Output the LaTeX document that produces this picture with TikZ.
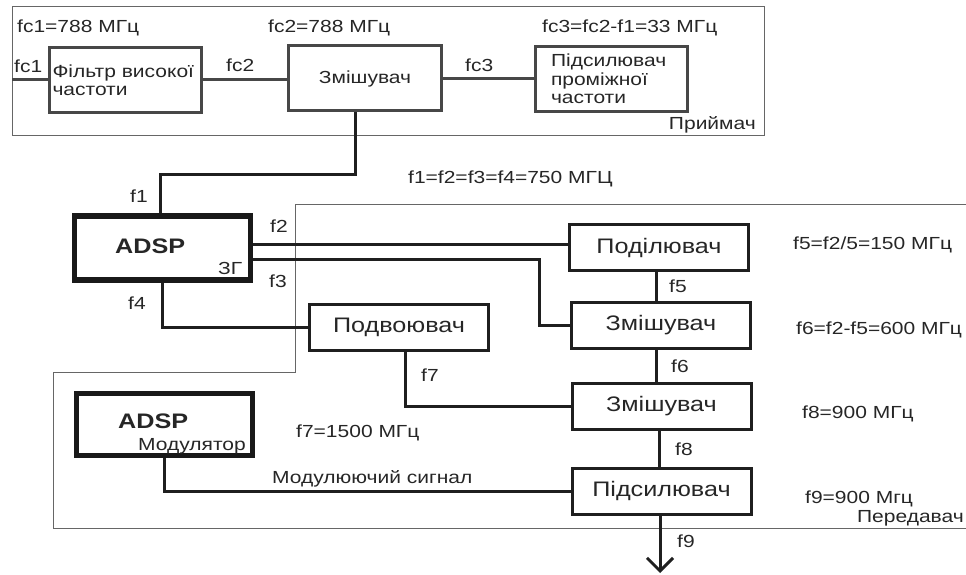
\documentclass[tikz,border=0pt]{standalone}
\usepackage{fontspec}
\setmainfont{Liberation Sans}[FakeStretch=1.2]
\usepackage{tikz}
\usetikzlibrary{positioning, arrows.meta, calc}

\newcommand{\lbltxt}{\fontsize{17.5}{18.5}\selectfont}
\newcommand{\blocktxt}{\fontsize{21}{23}\selectfont}

\begin{document}
\begin{tikzpicture}[
  x=1pt, y=-1pt,
  font=\lbltxt, text=black!85,
  >={Straight Barb[length=13pt, width=26pt]},
  box/.style={
    draw=black!88, line width=3pt, inner sep=0pt, align=center,
    font=\blocktxt, minimum width=179pt, minimum height=46pt
  },
  rxbox/.style={box, draw=black!72, font=\lbltxt, minimum width=152pt, minimum height=65pt},
  dspbox/.style={draw=black!90, line width=5.5pt, minimum width=176pt, minimum height=64pt},
  wire/.style={draw=black!88, line width=3pt},
  rxwire/.style={wire, draw=black!72},
  frame/.style={draw=black!60, line width=1pt},
  txt/.style={anchor=base west, inner sep=0pt}
]
\useasboundingbox (0,0) rectangle (966,575);

% frames of receiver and transmitter
\draw[frame] (12,7) rectangle (764,136);
\draw[frame] (966,204) -- (295,204) -- (295,372) -- (53,372) -- (53,528) -- (966,528);

% receiver
\node[rxbox, text width=145pt, align=left] (hpf) at (125,80) {Фільтр високої\\частоти};
\node[rxbox, minimum width=153pt] (mixa) at (365,78.5) {Змішувач};
\node[rxbox, text width=120pt, align=left] (ifa) at (611,79) {Підсилювач\\проміжної\\частоти};

% transmitter
\node[dspbox] (dspa) at (162.5,248) {};
\node[dspbox, minimum height=62pt] (dspb) at (164.5,424.5) {};
\node[box] (div) at (659,247.5) {Поділювач};
\node[box] (mixb) at (661,325.5) {Змішувач};
\node[box] (mixc) at (661.5,406) {Змішувач};
\node[box] (amp) at (661.5,491) {Підсилювач};
\node[box] (dbl) at (399,327) {Подвоювач};

\node[txt, font=\blocktxt\bfseries] (dspatitle) at (115,253) {ADSP};
\node[txt] (dspagen) at (218,274) {ЗГ};
\node[txt, font=\blocktxt\bfseries] (dspbtitle) at (118,428) {ADSP};
\node[txt] (dspbmod) at (138,450) {Модулятор};

\coordinate (in1) at (12,80);
\coordinate (f1knee) at (160,174);
\coordinate (f3knee) at (539,290);
\coordinate (out) at (660,573);

\draw[rxwire] (in1) -- (hpf.west);
\draw[rxwire] (hpf.east) -- (mixa.west |- hpf.east);
\draw[rxwire] (mixa.east) -- (ifa.west |- mixa.east);
\draw[wire] ([xshift=-10pt]mixa.south) |- (f1knee) -- (f1knee |- dspa.north);
\draw[wire] ([yshift=4pt]dspa.east) -- ([yshift=4pt]dspa.east -| div.west);
\draw[wire] ([yshift=-11pt]dspa.east) -| (f3knee) |- (mixb.west);
\draw[wire] (dspa.south) |- (dbl.west);
\draw[wire] ([xshift=-3pt]div.south) -- ([xshift=-3pt]div.south |- mixb.north);
\draw[wire] ([xshift=-5pt]mixb.south) -- ([xshift=-5pt]mixb.south |- mixc.north);
\draw[wire] ([xshift=-2.5pt]mixc.south) -- ([xshift=-2.5pt]mixc.south |- amp.north);
\draw[wire] ([xshift=6pt]dbl.south) |- (mixc.west);
\draw[wire] (dspb.south) |- (amp.west);
\draw[wire, ->] (amp.south -| out) -- (out);

% frequencies
\node[txt] (fca) at (17,33) {fc1=788 МГц};
\node[txt] (fcb) at (268,33) {fc2=788 МГц};
\node[txt] (fcc) at (542,33) {fc3=fc2-f1=33 МГц};
\node[txt] (lfca) at (14,73) {fc1};
\node[txt] (lfcb) at (226,72) {fc2};
\node[txt] (lfcc) at (465,72) {fc3};
\node[txt, anchor=base east] (rxname) at (756,130) {Приймач};
\node[txt] (fall) at (408,183) {f1=f2=f3=f4=750 МГЦ};
\node[txt] (lfa) at (130,202) {f1};
\node[txt] (lfb) at (270,232) {f2};
\node[txt] (lfc) at (269,287) {f3};
\node[txt] (lfd) at (128,309) {f4};
\node[txt] (lfe) at (669,292) {f5};
\node[txt] (fe) at (793,249) {f5=f2/5=150 МГц};
\node[txt] (ff) at (796,334) {f6=f2-f5=600 МГц};
\node[txt] (lff) at (671,372) {f6};
\node[txt] (lfg) at (421,381) {f7};
\node[txt] (fh) at (802,418) {f8=900 МГц};
\node[txt] (lfh) at (675,455) {f8};
\node[txt] (fg) at (296,437) {f7=1500 МГц};
\node[txt] (modsig) at (272,483) {Модулюючий сигнал};
\node[txt] (fi) at (805,503) {f9=900 Мгц};
\node[txt, anchor=base east] (txname) at (964,522) {Передавач};
\node[txt] (lfi) at (677,547) {f9};

\end{tikzpicture}
\end{document}
